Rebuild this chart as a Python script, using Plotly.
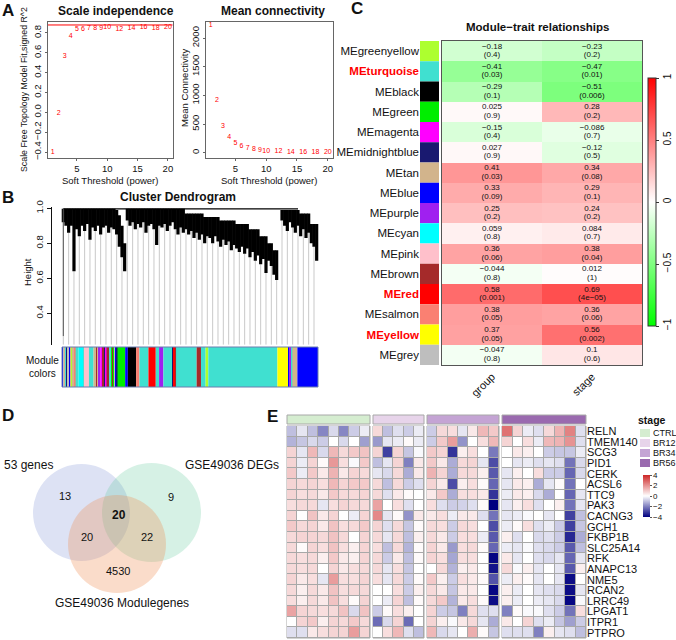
import plotly.graph_objects as go

W, H = 676, 640
FONT = "Liberation Sans, Arial, sans-serif"


def fx(p):
    return p / W


def fy(p):
    return 1 - p / H


# ---------------- Panel A : soft threshold ----------------
powers = [1, 2, 3, 4, 5, 6, 7, 8, 9, 10, 12, 14, 16, 18, 20]
sft_signed_r2 = [-0.40, -0.01, 0.56, 0.77, 0.84, 0.84, 0.85, 0.85, 0.85, 0.86, 0.84, 0.85, 0.86, 0.85, 0.86]
mean_connectivity = [2230, 920, 470, 280, 165, 110, 75, 55, 42, 33, 22, 15, 11, 8, 6]
r2_cutoff = 0.88

# ---------------- Panel B : dendrogram (leaf-block profile) ----------------
dendro_top = [
    0.997, 0.997, 0.997, 0.997, 0.997, 0.997, 0.997, 0.997, 0.997, 0.997,
    0.997, 0.997, 0.997, 0.997, 0.997, 0.997, 0.997, 0.997, 0.997, 0.997,
    0.99, 0.96, 0.90, 0.80, 0.997, 0.997, 0.997, 0.997, 0.997, 0.997,
    0.997, 0.997, 0.997, 0.997, 0.997, 0.997, 0.997, 0.997, 0.997, 0.997,
    0.997, 0.997, 0.997, 0.997, 0.997, 0.997, 0.97, 0.97, 0.97, 0.97,
    0.97, 0.97, 0.97, 0.95, 0.95, 0.95, 0.95, 0.95, 0.95, 0.93,
    0.93, 0.93, 0.93, 0.93, 0.93, 0.91, 0.91, 0.91, 0.91, 0.91,
    0.88, 0.88, 0.88, 0.88, 0.84, 0.84, 0.84, 0.80, 0.80, 0.76,
    0.76, 0.997, 0.99, 0.99, 0.99, 0.99, 0.99, 0.99, 0.99, 0.97,
    0.97, 0.97, 0.97, 0.91, 0.91, 0.91,
]
dendro_bottom = [
    0.92, 0.90, 0.86, 0.90, 0.64, 0.88, 0.84, 0.90, 0.87, 0.91,
    0.82, 0.89, 0.87, 0.90, 0.85, 0.89, 0.90, 0.86, 0.89, 0.88,
    0.85, 0.78, 0.72, 0.64, 0.93, 0.90, 0.92, 0.88, 0.91, 0.89,
    0.92, 0.86, 0.90, 0.91, 0.88, 0.79, 0.90, 0.89, 0.91, 0.87,
    0.90, 0.92, 0.88, 0.85, 0.89, 0.86, 0.88, 0.85, 0.87, 0.83,
    0.86, 0.82, 0.85, 0.80, 0.84, 0.83, 0.80, 0.84, 0.81, 0.78,
    0.82, 0.79, 0.81, 0.76, 0.79, 0.77, 0.75, 0.78, 0.74, 0.77,
    0.72, 0.75, 0.70, 0.73, 0.68, 0.71, 0.63, 0.70, 0.67, 0.62,
    0.59, 0.997, 0.93, 0.90, 0.87, 0.92, 0.89, 0.86, 0.90, 0.84,
    0.88, 0.83, 0.86, 0.80, 0.78, 0.70,
]
dendro_floor = 0.22

module_seq = [
    "blue", "grey", "tan", "turquoise", "midnightblue", "grey", "blue", "tan", "greenyellow", "tan",
    "salmon", "turquoise", "cyan", "turquoise", "pink", "turquoise", "tan", "brown", "tan", "purple",
    "magenta", "brown", "midnightblue", "magenta", "brown", "turquoise", "green", "brown", "green", "grey",
    "blue", "midnightblue", "green", "blue", "black", "salmon", "turquoise", "red", "turquoise", "purple",
    "turquoise", "midnightblue", "red", "brown", "turquoise", "brown", "turquoise", "greenyellow", "turquoise", "yellow",
    "blue", "purple", "turquoise", "tan", "blue",
]
module_width = [
    4, 3, 4, 4, 3, 4, 3, 3, 5, 5,
    3, 9, 14, 2, 15, 14, 8, 3, 4, 5,
    8, 5, 2, 4, 10, 4, 4, 3, 4, 3,
    3, 2, 23, 8, 25, 10, 27, 22, 10, 13,
    27, 3, 5, 3, 62, 13, 14, 8, 208, 32,
    4, 5, 4, 15, 62,
]

MODULE_HEX = {
    "greenyellow": "#ADFF2F", "turquoise": "#40E0D0", "black": "#000000", "green": "#00EE00",
    "magenta": "#FF00FF", "midnightblue": "#191970", "tan": "#D2B48C", "blue": "#0000FF",
    "purple": "#A020F0", "cyan": "#00FFFF", "pink": "#FFC0CB", "brown": "#A52A2A",
    "red": "#FF0000", "salmon": "#FA8072", "yellow": "#FFFF00", "grey": "#BEBEBE",
}

# ---------------- Panel C : module-trait ----------------
me_modules = ["MEgreenyellow", "MEturquoise", "MEblack", "MEgreen", "MEmagenta", "MEmidnightblue",
              "MEtan", "MEblue", "MEpurple", "MEcyan", "MEpink", "MEbrown", "MEred", "MEsalmon",
              "MEyellow", "MEgrey"]
cor_group = [-0.18, -0.41, -0.29, 0.025, -0.15, 0.027, 0.41, 0.33, 0.25, 0.059, 0.36, -0.044, 0.58, 0.38, 0.37, -0.047]
p_group = ["0.4", "0.03", "0.1", "0.9", "0.4", "0.9", "0.03", "0.09", "0.2", "0.8", "0.06", "0.8", "0.001", "0.05", "0.05", "0.8"]
cor_stage = [-0.23, -0.47, -0.51, 0.28, -0.086, -0.12, 0.34, 0.29, 0.24, 0.084, 0.38, 0.012, 0.69, 0.36, 0.56, 0.1]
p_stage = ["0.2", "0.01", "0.006", "0.2", "0.7", "0.5", "0.08", "0.1", "0.2", "0.7", "0.04", "1", "4e−05", "0.06", "0.002", "0.6"]
traits = ["group", "stage"]
highlighted = ["MEturquoise", "MEred", "MEyellow"]

# ---------------- Panel D : Venn ----------------
venn_names = ["53 genes", "GSE49036 DEGs", "GSE49036 Modulegenes"]
venn_only_53 = 13
venn_only_degs = 9
venn_only_module = 4530
venn_53_degs_module = 20
venn_53_module = 20
venn_degs_module = 22

# ---------------- Panel E : expression heatmap ----------------
genes = ["RELN", "TMEM140", "SCG3", "PID1", "CERK", "ACSL6", "TTC9", "PAK3", "CACNG3", "GCH1",
         "FKBP1B", "SLC25A14", "RFK", "ANAPC13", "NME5", "RCAN2", "LRRC49", "LPGAT1", "ITPR1", "PTPRO"]
stages = ["CTRL", "BR12", "BR34", "BR56"]
stage_colors = ["#D5EDD0", "#E7D4EA", "#C4A4D4", "#9A6AAF"]
expr_ctrl = [
    [-1.0, -0.4, -1.0, -1.9, -0.6, -1.9, -0.8, -0.3],
    [-1.2, -0.9, -0.6, -0.8, 0.0, -0.6, 0.0, -1.5],
    [0.8, -0.4, 1.3, -0.6, 1.3, 0.7, 1.0, 1.1],
    [0.8, -0.3, 0.8, 0.1, 1.9, 0.6, -0.1, 1.0],
    [1.0, -0.3, 1.0, 0.4, 1.4, 0.4, 0.8, 0.7],
    [0.8, 0.7, 0.8, 0.6, 1.3, 0.8, 1.0, 1.0],
    [0.8, 0.6, 0.7, 0.4, 1.0, 0.7, 0.7, 0.8],
    [0.6, 0.7, 0.7, -0.4, 0.6, 0.8, 0.7, 0.7],
    [0.8, 0.0, 1.1, 0.4, 0.8, 0.0, -0.3, 0.8],
    [1.0, 0.7, 0.8, 0.4, 1.1, 0.6, 0.7, 1.0],
    [0.7, 0.8, 0.8, 0.7, 1.1, 0.7, 0.0, 0.8],
    [0.7, 0.1, 0.8, 0.6, 1.1, 0.6, 0.3, 0.8],
    [0.7, 0.6, 0.7, 0.3, 1.0, 0.4, 0.3, 0.8],
    [0.7, 0.6, 0.7, 0.0, 0.8, 0.4, 0.6, 0.7],
    [0.8, 0.4, 0.6, -0.4, 1.8, 0.6, 0.6, 0.8],
    [0.7, 0.3, 0.7, 0.4, 1.1, 0.6, 0.7, 0.7],
    [0.6, 0.3, 0.7, 0.4, 1.1, 0.6, 0.1, 0.8],
    [1.7, 0.8, 0.7, 0.6, 0.7, 1.1, -0.6, 1.1],
    [0.0, 0.8, 1.0, 0.3, 0.8, 0.7, 1.0, 0.7],
    [-0.5, -0.5, 0.4, 0.6, 0.8, 0.8, 1.8, 0.8],
]
expr_br12 = [
    [0.7, -1.0, -0.5, -0.8, -0.3],
    [-1.6, -0.4, -0.3, 0.1, -0.3],
    [0.8, -3.0, 0.8, -0.9, -0.1],
    [-1.0, -0.4, 0.8, -2.0, 0.4],
    [-0.4, -0.6, 0.7, -1.3, 0.4],
    [0.7, -1.0, 0.7, -0.8, -0.5],
    [0.7, -0.5, 0.4, 0.1, 0.0],
    [1.7, 0.0, 0.6, -0.5, 0.0],
    [2.2, -0.4, 0.1, -1.7, 0.4],
    [0.8, -0.5, 0.7, -0.9, 0.1],
    [0.7, -0.4, 0.7, -1.0, 0.3],
    [0.6, -1.0, 0.7, -1.2, 0.1],
    [0.7, -0.8, 0.4, -1.0, 0.1],
    [0.7, -0.4, 0.6, -0.9, 0.0],
    [0.6, -0.4, 0.7, -0.8, 0.1],
    [0.0, 0.0, 0.6, -0.8, 0.3],
    [0.0, -0.3, 0.8, -1.0, 0.1],
    [-0.8, 0.1, 0.6, 0.3, 0.0],
    [-2.3, -0.6, 0.8, -2.3, 0.0],
    [0.0, 0.6, 1.3, -0.5, -1.0],
]
expr_br34 = [
    [-0.8, 0.7, 0.6, -0.4, 0.4, 1.3, 1.0],
    [-0.8, 1.0, 1.8, -1.7, 0.0, 0.6, 1.3],
    [1.0, 0.8, -3.2, 0.3, 0.6, 0.0, -2.1],
    [1.0, 0.4, -1.3, 0.7, 0.8, -0.4, -2.8],
    [1.4, 0.8, -1.3, 0.7, 0.7, 0.3, -2.6],
    [0.8, 0.4, -2.8, 0.3, 0.6, 0.1, -2.4],
    [0.4, 1.0, -1.3, 0.6, 0.6, 0.4, -3.2],
    [0.6, -0.5, -0.8, -0.7, -0.5, 0.1, -4.0],
    [0.4, 0.6, -0.3, 0.4, 0.4, -0.5, -2.2],
    [0.7, 0.6, -0.8, 0.7, 0.6, 0.0, -2.8],
    [0.7, 0.4, -0.8, 0.6, 0.6, -0.3, -2.6],
    [0.8, 0.4, -1.6, 0.6, 0.7, 0.1, -2.4],
    [0.8, 0.6, -1.4, 0.6, 0.6, 0.0, -3.9],
    [0.0, 0.7, -1.2, 0.3, 0.4, 0.0, -3.7],
    [1.0, 0.3, -0.8, 0.6, 0.4, 0.1, -2.7],
    [0.7, 0.4, -0.9, 0.4, 0.4, 0.0, -3.9],
    [0.7, 1.0, -1.2, 0.4, 0.6, 0.1, -3.8],
    [0.8, -0.8, -0.9, -2.0, 0.7, -0.5, -0.5],
    [0.8, 0.3, -0.1, 0.4, 0.7, -0.4, -1.3],
    [1.3, -0.6, -0.4, 0.0, 1.5, 0.1, -0.9],
]
expr_br56 = [
    [2.6, 0.8, -0.3, -0.5, 0.7, 1.4, 2.3, -0.5],
    [0.8, 0.0, 0.6, -0.3, 1.3, 1.4, 2.0, -0.5],
    [0.0, 0.4, 0.3, 0.0, -0.8, -0.9, -0.9, -0.3],
    [0.0, -0.4, -0.3, -0.5, -0.4, -0.5, -2.2, -0.6],
    [-0.4, 0.3, 0.0, 0.6, -0.8, -0.8, -2.4, -0.6],
    [-0.4, 0.4, 0.3, -1.3, -0.4, 0.1, -2.2, 0.0],
    [-0.3, 0.4, 0.3, -0.6, -1.3, 0.0, -2.4, -0.4],
    [-0.4, 0.3, 0.6, -0.5, 0.0, 0.3, -2.2, -0.4],
    [-0.4, -0.3, -0.1, 0.0, -0.4, 0.0, -3.0, -1.0],
    [-0.3, 0.1, 0.6, -0.5, -0.3, -0.8, -3.0, -0.9],
    [0.3, -0.5, 0.0, -0.6, -0.5, -0.8, -3.4, -1.3],
    [-0.3, -0.4, -0.1, -0.5, -0.6, -0.8, -2.6, -1.0],
    [0.4, -0.4, 0.0, -0.5, -0.6, -0.4, -2.4, -0.4],
    [0.7, -0.1, 0.3, -0.4, 0.0, -0.4, -2.6, 0.3],
    [-0.3, 0.3, 0.1, -0.4, 0.0, -0.4, -3.8, 0.0],
    [0.3, -0.3, 0.0, -0.4, -0.5, -0.6, -3.8, -0.4],
    [0.3, -0.3, 0.0, -0.3, -0.4, -0.6, -3.9, -0.1],
    [-2.0, 0.1, -0.1, -0.1, -0.5, -0.8, -2.2, 0.6],
    [0.4, 0.0, 0.8, -0.5, -0.3, -0.9, -1.5, -0.8],
    [-0.5, -0.5, -0.5, -2.0, 0.3, -0.4, -0.5, -1.0],
]

# =====================================================================
fig = go.Figure()
shapes = []
ann = []


def add_text(x, y, text, size=10, color="#111", xanchor="center", yanchor="middle", angle=0, xref="paper", yref="paper"):
    if xref == "paper":
        x, y = fx(x), fy(y)
    ann.append(dict(x=x, y=y, xref=xref, yref=yref, text=text, showarrow=False,
                    font=dict(size=size, color=color, family=FONT), xanchor=xanchor,
                    yanchor=yanchor, textangle=angle))


box_common = dict(showline=True, mirror=True, linecolor="#666", linewidth=1, ticks="outside",
                  ticklen=2, tickcolor="#666", tickfont=dict(size=9.5, color="#111", family=FONT),
                  showgrid=False, zeroline=False)

# ---- A1
fig.add_trace(go.Scatter(x=powers, y=sft_signed_r2, mode="text", text=[str(p) for p in powers],
                         textfont=dict(color="red", size=7, family=FONT), xaxis="x", yaxis="y",
                         hoverinfo="skip"))
shapes.append(dict(type="line", xref="x domain", yref="y", x0=0, x1=1, y0=r2_cutoff, y1=r2_cutoff,
                   line=dict(color="red", width=1)))
# ---- A2
fig.add_trace(go.Scatter(x=powers, y=mean_connectivity, mode="text", text=[str(p) for p in powers],
                         textfont=dict(color="red", size=7, family=FONT), xaxis="x2", yaxis="y2",
                         hoverinfo="skip"))

# ---- B dendrogram
gx, gy = [], []
for i, b in enumerate(dendro_bottom):
    if i % 2 == 0 and b < 0.99:
        gx += [i, i, None]
        gy += [b, dendro_floor, None]
fig.add_trace(go.Scatter(x=gx, y=gy, mode="lines", line=dict(color="#C9C9C9", width=1),
                         xaxis="x3", yaxis="y3", hoverinfo="skip"))
bx, by = [], []
for i, (t, b) in enumerate(zip(dendro_top, dendro_bottom)):
    if t - b > 0.002:
        bx += [i, i, None]
        by += [t, b, None]
fig.add_trace(go.Scatter(x=bx, y=by, mode="lines", line=dict(color="black", width=3.2),
                         xaxis="x3", yaxis="y3", hoverinfo="skip"))
fig.add_trace(go.Scatter(x=[0, 88], y=[0.997, 0.997], mode="lines", line=dict(color="black", width=1.2),
                         xaxis="x3", yaxis="y3", hoverinfo="skip"))
fig.add_trace(go.Scatter(x=[0, 0], y=[0.997, 0.27], mode="lines", line=dict(color="#555", width=1),
                         xaxis="x3", yaxis="y3", hoverinfo="skip"))

starts = []
acc = 0
for w in module_width:
    starts.append(acc)
    acc += w
fig.add_trace(go.Bar(orientation="h", y=[0] * len(module_width), x=module_width, base=starts, width=1,
                     marker=dict(color=[MODULE_HEX[m] for m in module_seq], line=dict(width=0)),
                     xaxis="x4", yaxis="y4", hoverinfo="skip"))
shapes.append(dict(type="rect", xref="x4 domain", yref="y4 domain", x0=0, x1=1, y0=0, y1=1,
                   line=dict(color="#6A7FB0", width=1)))

# ---- C module-trait
rows = list(range(len(me_modules)))
z_c = [[g, s] for g, s in zip(cor_group, cor_stage)]


def fmt(v):
    s = f"{v:g}"
    return s.replace("-", "−")


fig.add_trace(go.Heatmap(z=z_c, x=[0, 1], y=rows, coloraxis="coloraxis",
                         xaxis="x5", yaxis="y5", hoverinfo="skip"))
for col, (cors, ps) in enumerate([(cor_group, p_group), (cor_stage, p_stage)]):
    fig.add_trace(go.Scatter(x=[col for _ in rows], y=[r - 0.22 for r in rows], mode="text",
                             text=[fmt(v) for v in cors], textfont=dict(size=8, color="#111", family=FONT),
                             xaxis="x5", yaxis="y5", hoverinfo="skip"))
    fig.add_trace(go.Scatter(x=[col for _ in rows], y=[r + 0.2 for r in rows], mode="text",
                             text=[f"({p})" for p in ps], textfont=dict(size=8, color="#111", family=FONT),
                             xaxis="x5", yaxis="y5", hoverinfo="skip"))
fig.add_trace(go.Bar(orientation="h", y=rows, x=[1 for _ in rows], width=1,
                     marker=dict(color=[MODULE_HEX[m[2:]] for m in me_modules], line=dict(width=0)),
                     xaxis="x6", yaxis="y6", hoverinfo="skip"))
row_labels = [f"<b><span style='color:red'>{m}</span></b>" if m in highlighted else m for m in me_modules]

# ---- D Venn
venn_circles = [((81.5, 512.5), 48.5, "rgba(120,140,210,0.25)"),
                ((151.5, 512.5), 49.5, "rgba(90,200,150,0.25)"),
                ((117, 544), 49, "rgba(240,140,80,0.30)")]
for (cx, cy), r, col in venn_circles:
    shapes.append(dict(type="circle", xref="x7", yref="y7", x0=cx - r, x1=cx + r, y0=cy - r, y1=cy + r,
                       fillcolor=col, line=dict(width=0), layer="below"))
fig.add_trace(go.Scatter(x=[0], y=[420], mode="markers", marker=dict(opacity=0), xaxis="x7", yaxis="y7",
                         hoverinfo="skip"))
vt = dict(xref="x7", yref="y7")
add_text(2, 465, venn_names[0], size=12, xanchor="left", **vt)
add_text(183, 465, venn_names[1], size=12, xanchor="left", **vt)
add_text(122, 603, venn_names[2], size=12, **vt)
add_text(65, 496, str(venn_only_53), size=11, **vt)
add_text(171, 497, str(venn_only_degs), size=11, **vt)
add_text(119, 515, f"<b>{venn_53_degs_module}</b>", size=12, **vt)
add_text(87, 537, str(venn_53_module), size=11, **vt)
add_text(147, 537, str(venn_degs_module), size=11, **vt)
add_text(118, 571, str(venn_only_module), size=11, **vt)

# ---- E heatmap
e_axes = ["x8", "x9", "x10", "x11"]
e_data = [expr_ctrl, expr_br12, expr_br34, expr_br56]
for k, (ax, data) in enumerate(zip(e_axes, e_data)):
    n = len(data[0])
    shapes.append(dict(type="rect", xref=f"{ax} domain", yref="y8 domain", x0=0, x1=1, y0=0, y1=1,
                       fillcolor="#A8A8A8", line=dict(color="#A8A8A8", width=1), layer="below"))
    fig.add_trace(go.Heatmap(z=data, x=list(range(n)), y=genes, coloraxis="coloraxis2", xgap=1, ygap=1,
                             xaxis=ax, yaxis="y8", hoverinfo="skip"))
    fig.add_trace(go.Heatmap(z=[[k for _ in range(n)]], x=list(range(n)), y=[0],
                             colorscale=[[0, stage_colors[k]], [1, stage_colors[k]]], showscale=False,
                             xaxis=ax, yaxis="y9", hoverinfo="skip"))
    shapes.append(dict(type="rect", xref=f"{ax} domain", yref="y9 domain", x0=0, x1=1, y0=0, y1=1,
                       line=dict(color="#A8A8A8", width=1)))

add_text(636, 420, "<b>stage</b>", size=10.5, xanchor="left")
for k, (s, c) in enumerate(zip(stages, stage_colors)):
    yc = 433 + 10 * k
    shapes.append(dict(type="rect", xref="paper", yref="paper", x0=fx(640), x1=fx(650),
                       y0=fy(yc + 4), y1=fy(yc - 4), fillcolor=c, line=dict(width=0)))
    add_text(651, yc, s, size=9, xanchor="left")

# ---- texts
add_text(8, 10, "<b>A</b>", size=17)
add_text(8, 197, "<b>B</b>", size=17)
add_text(357, 9, "<b>C</b>", size=17)
add_text(8, 415, "<b>D</b>", size=17)
add_text(272, 416, "<b>E</b>", size=17)

add_text(116, 11, "<b>Scale independence</b>", size=12)
add_text(273, 11, "<b>Mean connectivity</b>", size=12)
add_text(110, 180, "Soft Threshold (power)", size=9.5)
add_text(269, 180, "Soft Threshold (power)", size=9.5)
add_text(24, 90, "Scale Free Topology Model Fit,signed R^2", size=8.8, angle=-90)
add_text(185, 88, "Mean Connectivity", size=9.5, angle=-90)

add_text(178, 197, "<b>Cluster Dendrogram</b>", size=12)
add_text(27, 272, "Height", size=9.5, angle=-90)
add_text(42, 367, "Module<br>colors", size=10)

add_text(537, 27, "<b>Module−trait relationships</b>", size=11.5)

# ---- layout
hidden = dict(visible=False, showgrid=False, zeroline=False)
layout = dict(
    width=W, height=H, margin=dict(l=0, r=0, t=0, b=0, autoexpand=False), paper_bgcolor="white",
    plot_bgcolor="white", showlegend=False, font=dict(family=FONT, color="#111"),
    xaxis=dict(domain=[fx(48), fx(172.5)], range=[0.24, 20.76], tickvals=[5, 10, 15, 20], anchor="y", **box_common),
    yaxis=dict(domain=[fy(158), fy(22)], range=[-0.46, 0.91], tickvals=[-0.4, -0.2, 0, 0.2, 0.4, 0.6, 0.8],
               tickformat=".1f", tickangle=-90, anchor="x", **box_common),
    xaxis2=dict(domain=[fx(206), fx(332.5)], range=[0.24, 20.76], tickvals=[5, 10, 15, 20], anchor="y2", **box_common),
    yaxis2=dict(domain=[fy(158), fy(22)], range=[-90, 2280], tickvals=[0, 500, 1000, 1500, 2000],
                tickangle=-90, anchor="x2", **box_common),
    xaxis3=dict(domain=[fx(52), fx(320)], range=[-4.24, 96.25], anchor="y3", **hidden),
    yaxis3=dict(domain=[fy(344.8), fy(207.4)], range=[dendro_floor, 1.005], tickvals=[0.4, 0.6, 0.8, 1.0],
                tickformat=".1f", tickangle=-90, anchor="x3", showline=True, linecolor="#111", ticks="outside",
                ticklen=4, tickcolor="#111", tickfont=dict(size=9.5, color="#111"), showgrid=False, zeroline=False),
    xaxis4=dict(domain=[fx(62), fx(318)], range=[0, acc], anchor="y4", **hidden),
    yaxis4=dict(domain=[fy(387), fy(347)], range=[-0.5, 0.5], anchor="x4", **hidden),
    xaxis5=dict(domain=[fx(442), fx(642)], range=[-0.5, 1.5], anchor="y5", tickmode="array", tickvals=[0, 1],
                ticktext=traits, tickangle=-45, ticks="", showline=True, mirror=True,
                linecolor="#555", tickfont=dict(size=11, color="#111"), showgrid=False, zeroline=False),
    yaxis5=dict(domain=[fy(365), fy(41)], anchor="x5", range=[15.5, -0.5], showticklabels=False, ticks="",
                showline=True, mirror=True, linecolor="#555", showgrid=False, zeroline=False),
    xaxis6=dict(domain=[fx(420), fx(439)], range=[0, 1], anchor="y6", **hidden),
    yaxis6=dict(domain=[fy(365), fy(41)], anchor="x6", range=[15.5, -0.5], tickmode="array", tickvals=rows,
                ticktext=row_labels, ticks="", showline=False, showgrid=False, zeroline=False,
                tickfont=dict(size=11.5, color="#111")),
    xaxis7=dict(domain=[0, fx(230)], range=[0, 230], anchor="y7", **hidden),
    yaxis7=dict(domain=[fy(640), fy(420)], range=[640, 420], anchor="x7", **hidden),
    coloraxis=dict(colorscale=[[0, "#00FF00"], [0.5, "#FFFFFF"], [1, "#FF0000"]], cmin=-1, cmax=1,
                   colorbar=dict(x=fx(648), xanchor="left", y=fy(202), yanchor="middle", len=248 / H,
                                 thickness=8, outlinewidth=1, outlinecolor="#333", xpad=0, ypad=0,
                                 tickvals=[-1, -0.5, 0, 0.5, 1], ticktext=["−1", "−0.5", "0", "0.5", "1"],
                                 tickangle=-90, ticks="outside", ticklen=3, tickcolor="#333",
                                 tickfont=dict(size=10, color="#111"))),
    coloraxis2=dict(colorscale=[[0, "#000080"], [0.5, "#FFFFFF"], [1, "#CD2626"]], cmin=-4, cmax=4,
                    colorbar=dict(x=fx(643), xanchor="left", y=fy(496), yanchor="middle", len=42 / H,
                                  thickness=7, outlinewidth=0, xpad=0, ypad=0, tickvals=[-4, -2, 0, 2, 4],
                                  ticktext=["−4", "−2", "0", "2", "4"],
                                  ticks="outside", ticklen=2, tickcolor="#555",
                                  tickfont=dict(size=8, color="#111"))),
    yaxis8=dict(domain=[fy(638), fy(426)], anchor="x11", side="right", range=[19.5, -0.5],
                categoryorder="array", categoryarray=genes, tickmode="array", tickvals=genes, ticktext=genes,
                ticks="", showgrid=False, zeroline=False, showline=False, tickfont=dict(size=11, color="#111")),
    yaxis9=dict(domain=[fy(424), fy(415)], range=[-0.5, 0.5], anchor="x8", **hidden),
)
e_dom = [(287, 370), (373, 424), (427, 499), (502, 586)]
for k, ((a, b), data) in enumerate(zip(e_dom, e_data)):
    n = len(data[0])
    layout[f"xaxis{8 + k}"] = dict(domain=[fx(a), fx(b)], range=[-0.5, n - 0.5], anchor="y8", **hidden)

layout["shapes"] = shapes
layout["annotations"] = ann
fig.update_layout(**layout)
fig.write_html("out.html", config={"displayModeBar": False},
               post_script="document.body.style.margin='0';document.body.style.padding='0';")
